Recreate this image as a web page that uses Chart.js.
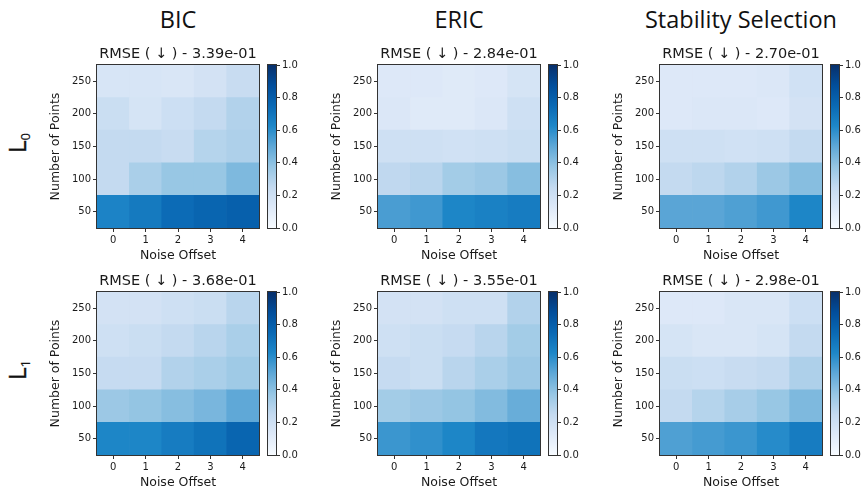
<!DOCTYPE html>
<html><head><meta charset="utf-8">
<script src="https://cdn.jsdelivr.net/npm/chart.js@4"></script>
<style>
body{margin:0;width:864px;height:492px;background:#fff;position:relative;overflow:hidden;font-family:"DejaVu Sans";}
canvas{position:absolute;}
.coltitle{position:absolute;font-family:"Open Sans";font-size:23.5px;color:#111;transform:translate(-50%,-50%);white-space:nowrap;line-height:1;}
.rowlabel{position:absolute;font-family:"Open Sans";font-size:24px;color:#111;transform:translate(-50%,-50%) rotate(-90deg);white-space:nowrap;line-height:1;-webkit-text-stroke:0.4px #111;}
.rowlabel sub{font-size:13px;vertical-align:-4px;-webkit-text-stroke:0.2px #111;}
</style></head><body>
<script>
// ---- data ----
const noiseOffsets = ['0','1','2','3','4'];
const numPoints = [50,100,150,200,250];
const colorbarTicks = [0,0.2,0.4,0.6,0.8,1.0];
const columnTitles = ['BIC','ERIC','Stability Selection'];
const rowLabels = ['0','1'];
const rmseTitles = [
  ['RMSE ( ↓ ) - 3.39e-01','RMSE ( ↓ ) - 2.84e-01','RMSE ( ↓ ) - 2.70e-01'],
  ['RMSE ( ↓ ) - 3.68e-01','RMSE ( ↓ ) - 3.55e-01','RMSE ( ↓ ) - 2.98e-01']
];
// rows ordered as numPoints (50 .. 250), columns as noiseOffsets
const bicL0 = [
  [0.64,0.68,0.74,0.77,0.79],
  [0.25,0.32,0.37,0.37,0.43],
  [0.25,0.25,0.23,0.29,0.31],
  [0.22,0.17,0.21,0.25,0.30],
  [0.16,0.16,0.15,0.18,0.23]
];
const ericL0 = [
  [0.54,0.56,0.63,0.65,0.67],
  [0.26,0.28,0.34,0.36,0.41],
  [0.20,0.20,0.19,0.20,0.22],
  [0.14,0.12,0.12,0.14,0.20],
  [0.13,0.13,0.12,0.13,0.17]
];
const stabL0 = [
  [0.51,0.51,0.53,0.56,0.63],
  [0.25,0.27,0.30,0.36,0.41],
  [0.20,0.20,0.19,0.20,0.25],
  [0.13,0.14,0.14,0.13,0.18],
  [0.13,0.13,0.13,0.14,0.19]
];
const bicL1 = [
  [0.63,0.63,0.67,0.71,0.77],
  [0.36,0.38,0.41,0.44,0.50],
  [0.24,0.24,0.30,0.32,0.35],
  [0.20,0.22,0.25,0.28,0.32],
  [0.18,0.18,0.20,0.22,0.28]
];
const ericL1 = [
  [0.57,0.59,0.63,0.69,0.71],
  [0.34,0.36,0.38,0.42,0.48],
  [0.24,0.22,0.28,0.32,0.36],
  [0.20,0.22,0.24,0.28,0.34],
  [0.18,0.18,0.20,0.20,0.30]
];
const stabL1 = [
  [0.53,0.55,0.57,0.61,0.67],
  [0.25,0.29,0.33,0.37,0.43],
  [0.22,0.21,0.23,0.25,0.31],
  [0.17,0.15,0.15,0.17,0.25],
  [0.13,0.13,0.15,0.15,0.21]
];
const panelData = [[bicL0, ericL0, stabL0],[bicL1, ericL1, stabL1]];

// ---- colormap (Blues-like) ----
const cmapStops = [
  [0.0,[247,251,255]],[0.125,[222,233,248]],[0.25,[196,218,240]],[0.375,[150,198,228]],
  [0.5,[95,168,215]],[0.625,[30,135,200]],[0.75,[10,105,180]],[0.875,[2,78,155]],[1.0,[8,48,107]]
];
function cmap(v){
  v = Math.max(0, Math.min(1, v));
  for (let i=1;i<cmapStops.length;i++){
    const [p1,c1] = cmapStops[i-1], [p2,c2] = cmapStops[i];
    if (v <= p2){
      const t = (v-p1)/(p2-p1);
      const c = c1.map((a,k)=>Math.round(a+(c2[k]-a)*t));
      return `rgb(${c[0]},${c[1]},${c[2]})`;
    }
  }
  const c = cmapStops[cmapStops.length-1][1];
  return `rgb(${c[0]},${c[1]},${c[2]})`;
}

// ---- layout ----
const TXT = '#1a1a1a', LINE = '#333';
const plotLefts = [97,378,660], plotTops = [65,292];
const plotW = 162, plotH = 163;
const Y_AXIS_W = 52, TITLE_H = 27, X_AXIS_H = 36;

const framePlugin = {
  id:'frame',
  afterDraw(chart){
    const a = chart.chartArea, ctx = chart.ctx;
    ctx.save();
    ctx.strokeStyle = LINE; ctx.lineWidth = 1;
    ctx.strokeRect(Math.round(a.left)-0.5, Math.round(a.top)-0.5, Math.round(a.width)+1, Math.round(a.height)+1);
    ctx.restore();
  }
};

function mkCanvas(l,t,w,h){
  const c = document.createElement('canvas');
  c.width = w; c.height = h;
  c.style.left = l+'px'; c.style.top = t+'px';
  c.style.width = w+'px'; c.style.height = h+'px';
  document.body.appendChild(c);
  return c;
}

const tickFont = {family:'DejaVu Sans', size:10};
const labelFont = {family:'DejaVu Sans', size:12.5};
const gridOpts = {drawOnChartArea:false, drawTicks:true, tickLength:4, color:LINE, lineWidth:1};

function heatChart(canvas, values, title){
  return new Chart(canvas, {
    type:'bar',
    data:{
      labels: noiseOffsets,
      datasets: numPoints.map((p,ri)=>({
        data: noiseOffsets.map(()=>[p-25, p+25]),
        backgroundColor: values[ri].map(cmap),
        borderWidth:0, grouped:false, barPercentage:1, categoryPercentage:1, borderSkipped:false
      }))
    },
    options:{
      responsive:false, animation:false, devicePixelRatio:1,
      layout:{padding:{right:2, left:0, top:0, bottom:0}},
      plugins:{
        legend:{display:false}, tooltip:{enabled:false},
        title:{display:true, text:title, fullSize:false, color:TXT,
          font:{family:'DejaVu Sans', size:14.5, weight:'normal'}, padding:{top:7.6, bottom:2}}
      },
      scales:{
        x:{type:'category', offset:true,
          grid:Object.assign({offset:false}, gridOpts), border:{display:false},
          ticks:{font:tickFont, color:TXT, padding:2, maxRotation:0},
          title:{display:true, text:'Noise Offset', font:labelFont, color:TXT, padding:{top:0, bottom:0.5}},
          afterFit:s=>{s.height = X_AXIS_H;}
        },
        y:{type:'linear', min:25, max:275,
          afterBuildTicks:s=>{s.ticks = numPoints.map(v=>({value:v}));},
          grid:gridOpts, border:{display:false},
          ticks:{font:tickFont, color:TXT, padding:2},
          title:{display:true, text:'Number of Points', font:labelFont, color:TXT, padding:{top:3.5, bottom:0}},
          afterFit:s=>{s.width = Y_AXIS_W;}
        }
      }
    },
    plugins:[framePlugin]
  });
}

function gradientFor(chart){
  const a = chart.chartArea;
  if (!a) return cmap(0.5);
  const g = chart.ctx.createLinearGradient(0, a.bottom, 0, a.top);
  cmapStops.forEach(([p,c])=>g.addColorStop(p, `rgb(${c[0]},${c[1]},${c[2]})`));
  return g;
}

function colorbarChart(canvas){
  return new Chart(canvas, {
    type:'bar',
    data:{labels:[''], datasets:[{data:[[0,1]], backgroundColor:ctx=>gradientFor(ctx.chart),
      borderWidth:0, barPercentage:1, categoryPercentage:1, borderSkipped:false}]},
    options:{
      responsive:false, animation:false, devicePixelRatio:1,
      layout:{padding:{top:10, bottom:10, left:2, right:0}},
      plugins:{legend:{display:false}, tooltip:{enabled:false}},
      scales:{
        x:{display:false},
        y:{position:'right', min:0, max:1,
          afterBuildTicks:s=>{s.ticks = colorbarTicks.map(v=>({value:v}));},
          grid:gridOpts, border:{display:false},
          ticks:{font:tickFont, color:TXT, padding:2, callback:v=>Number(v).toFixed(1)},
          afterFit:s=>{s.width = 30;}
        }
      }
    },
    plugins:[framePlugin]
  });
}

for (let r=0;r<2;r++){
  for (let c=0;c<3;c++){
    const pl = plotLefts[c], pt = plotTops[r];
    const cv = mkCanvas(pl-Y_AXIS_W, pt-TITLE_H, Y_AXIS_W+plotW+2, TITLE_H+plotH+X_AXIS_H);
    heatChart(cv, panelData[r][c], rmseTitles[r][c]);
    const cb = mkCanvas(pl+plotW+9-2, pt-10, 40, plotH+20);
    colorbarChart(cb);
  }
}

columnTitles.forEach((t,c)=>{
  const d = document.createElement('div');
  d.className = 'coltitle'; d.textContent = t;
  d.style.left = (plotLefts[c]+plotW/2)+'px'; d.style.top = '20px';
  document.body.appendChild(d);
});
rowLabels.forEach((s,r)=>{
  const d = document.createElement('div');
  d.className = 'rowlabel';
  d.innerHTML = 'L<sub>'+s+'</sub>';
  d.style.left = '18px'; d.style.top = (plotTops[r]+plotH/2-4)+'px';
  document.body.appendChild(d);
});
</script>
</body></html>
